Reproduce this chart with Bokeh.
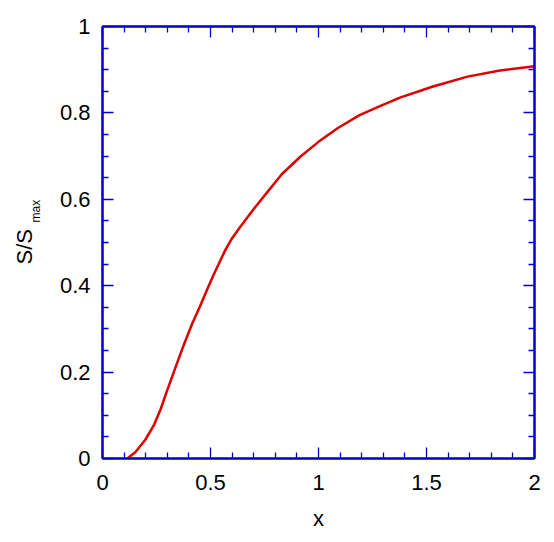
from bokeh.plotting import figure
from bokeh.models import LinearAxis, FixedTicker, CustomJSTickFormatter, Range1d, Title
from bokeh.embed import file_html
from bokeh.resources import INLINE

# ---- data ----
x_vals = [0.115, 0.153, 0.199, 0.238, 0.269, 0.299, 0.338, 0.377, 0.415, 0.451, 0.485,
          0.515, 0.569, 0.60, 0.639, 0.701, 0.762, 0.83, 0.917, 1.00, 1.09, 1.19, 1.29, 1.38,
          1.465, 1.53, 1.69, 1.84, 2.0]
s_vals = [0.0, 0.015, 0.044, 0.077, 0.114, 0.157, 0.211, 0.264, 0.312, 0.352, 0.392,
          0.426, 0.483, 0.510, 0.537, 0.578, 0.616, 0.658, 0.699, 0.733, 0.765, 0.795, 0.817,
          0.836, 0.850, 0.861, 0.884, 0.898, 0.908]

x_major = [0, 0.5, 1, 1.5, 2]
x_minor = [0.1, 0.2, 0.3, 0.4, 0.6, 0.7, 0.8, 0.9, 1.1, 1.2, 1.3, 1.4, 1.6, 1.7, 1.8, 1.9]
y_major = [0, 0.2, 0.4, 0.6, 0.8, 1]
y_minor = [0.05, 0.1, 0.15, 0.25, 0.3, 0.35, 0.45, 0.5, 0.55, 0.65, 0.7, 0.75, 0.85, 0.9, 0.95]

x_label = "x"
y_label_main = "S/S"
y_label_sub = "max"

BLUE = "#0000cc"
RED = "#dd0000"
FONT = "Liberation Sans"
FS = "22px"

p = figure(frame_width=432, frame_height=432, output_backend="svg", toolbar_location=None,
           x_range=Range1d(0, 2), y_range=Range1d(0, 1),
           x_axis_location=None, y_axis_location=None,
           min_border_left=102, min_border_right=20, min_border_top=26, min_border_bottom=84)
p.grid.visible = False
p.outline_line_color = BLUE
p.outline_line_width = 2
p.background_fill_color = "white"
p.border_fill_color = "white"

fmt = CustomJSTickFormatter(code="return Number(tick.toFixed(3)).toString();")
no_labels = CustomJSTickFormatter(code="return '';")


def style(ax, labels=True):
    ax.axis_line_color = BLUE
    ax.axis_line_width = 2
    ax.major_tick_line_color = BLUE
    ax.minor_tick_line_color = BLUE
    ax.major_tick_line_width = 1.3
    ax.minor_tick_line_width = 1.3
    ax.major_tick_in = 11
    ax.major_tick_out = 0
    ax.minor_tick_in = 6
    ax.minor_tick_out = 0
    ax.major_label_text_font = FONT
    ax.major_label_text_font_size = FS
    ax.major_label_text_color = "black"
    if not labels:
        ax.formatter = no_labels
        ax.major_label_standoff = 0


bottom = LinearAxis(ticker=FixedTicker(ticks=x_major, minor_ticks=x_minor), formatter=fmt)
style(bottom)
bottom.major_label_standoff = 16
bottom.axis_label = x_label
bottom.axis_label_text_font = FONT
bottom.axis_label_text_font_size = FS
bottom.axis_label_text_font_style = "normal"
bottom.axis_label_text_color = "black"
bottom.axis_label_standoff = 13
p.add_layout(bottom, "below")

top = LinearAxis(ticker=FixedTicker(ticks=x_major, minor_ticks=x_minor))
style(top, labels=False)
p.add_layout(top, "above")

left = LinearAxis(ticker=FixedTicker(ticks=y_major, minor_ticks=y_minor), formatter=fmt)
style(left)
left.major_label_standoff = 12
p.add_layout(left, "left")

right = LinearAxis(ticker=FixedTicker(ticks=y_major, minor_ticks=y_minor))
style(right, labels=False)
p.add_layout(right, "right")

# invisible spacer between the tick labels and the y-axis title
spacer = LinearAxis(ticker=FixedTicker(ticks=[0.5], minor_ticks=[]), formatter=no_labels,
                    axis_line_color=None, major_tick_line_color=None,
                    minor_tick_line_color=None, major_tick_in=0, major_tick_out=14,
                    minor_tick_in=0, minor_tick_out=0, major_label_standoff=0)
p.add_layout(spacer, "left")

# y-axis label "S/S" with subscript "max", as two vertical titles on the left side
sub_title = Title(text=y_label_sub, align="left", offset=236, standoff=0,
                  vertical_align="bottom", text_font=FONT, text_font_size="12px",
                  text_font_style="normal", text_color="black")
main_title = Title(text=y_label_main, align="left", offset=194, standoff=-21,
                   vertical_align="bottom", text_font=FONT, text_font_size=FS,
                   text_font_style="normal", text_color="black")
p.add_layout(sub_title, "left")
p.add_layout(main_title, "left")

p.line(x_vals, s_vals, line_color=RED, line_width=2.5)

open("out.html", "w").write(file_html(p, INLINE))
